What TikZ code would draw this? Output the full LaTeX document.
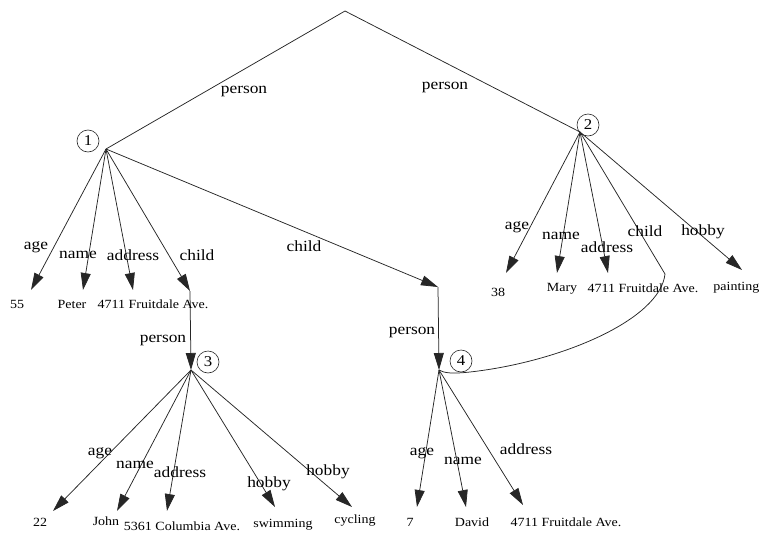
\documentclass[tikz,border=0pt]{standalone}
\usepackage{fontspec}
\setmainfont{Liberation Serif}[FakeStretch=1.12]
\usetikzlibrary{arrows.meta}
\tikzset{
  edge/.style={draw=black!85, line width=0.75pt},
  arr/.style={edge, -{Triangle[length=17pt,width=10pt]}},
  lbl/.style={inner sep=0pt, font=\fontsize{15.5}{17}\selectfont},
  leaf/.style={inner sep=0pt, font=\fontsize{12.5}{14}\selectfont},
  circ/.style={draw=black!85, circle, line width=0.6pt, minimum size=22pt, inner sep=0pt, font=\fontsize{15}{16}\selectfont}
}
\begin{document}
\begin{tikzpicture}[x=1pt,y=-1pt]
\useasboundingbox (0,0) rectangle (760,533);
% points
\coordinate (n0) at (345,11);
\coordinate (n1) at (106,149);
\coordinate (n2) at (580,132);
\coordinate (n3) at (191,370);
\coordinate (n4) at (439,370);
\coordinate (m1) at (190,291);
\coordinate (m4) at (438,287);
\coordinate (k2) at (665,274);
% circles
\node[circ] (c1) at (88,141) {1};
\node[circ] (c2) at (588,125) {2};
\node[circ] (c3) at (208,362) {3};
\node[circ] (c4) at (461,361) {4};
% tips
\coordinate (t1a) at (31,290);
\coordinate (t1n) at (83,290);
\coordinate (t1d) at (133,290);
\coordinate (t2a) at (506,273);
\coordinate (t2n) at (557,273);
\coordinate (t2d) at (608,273);
\coordinate (t2h) at (742,270);
\coordinate (t3a) at (53,511);
\coordinate (t3n) at (117,511);
\coordinate (t3d) at (167,511);
\coordinate (t3h) at (275,507);
\coordinate (t3c) at (352,507);
\coordinate (t4a) at (417,507);
\coordinate (t4n) at (466,507);
\coordinate (t4d) at (523,505);
% top edges
\draw[edge] (n1) -- (n0) -- (n2);
% node 1
\draw[arr] (n1) -- (t1a);
\draw[arr] (n1) -- (t1n);
\draw[arr] (n1) -- (t1d);
\draw[arr] (n1) -- (m1);
\draw[arr] (n1) -- (m4);
\draw[arr] (m1) -- (n3);
\draw[arr] (m4) -- (n4);
% node 2
\draw[arr] (n2) -- (t2a);
\draw[arr] (n2) -- (t2n);
\draw[arr] (n2) -- (t2d);
\draw[arr] (n2) -- (t2h);
\draw[edge] (n2) -- (k2) .. controls (660,320) and (560,362) .. (470,372) .. controls (452,374) and (444,373) .. (n4);
% node 3
\draw[arr] (n3) -- (t3a);
\draw[arr] (n3) -- (t3n);
\draw[arr] (n3) -- (t3d);
\draw[arr] (n3) -- (t3h);
\draw[arr] (n3) -- (t3c);
% node 4
\draw[arr] (n4) -- (t4a);
\draw[arr] (n4) -- (t4n);
\draw[arr] (n4) -- (t4d);
% edge labels
\node[lbl] (lp1) at (244,91) {person};
\node[lbl] (lp2) at (445,87) {person};
\node[lbl] (l1a) at (36,247) {age};
\node[lbl] (l1n) at (78,255) {name};
\node[lbl] (l1d) at (133,255) {address};
\node[lbl] (l1c) at (197,255) {child};
\node[lbl] (l1k) at (304,246) {child};
\node[lbl] (lp3) at (163,340) {person};
\node[lbl] (lp4) at (412,332) {person};
\node[lbl] (l3a) at (100,453) {age};
\node[lbl] (l3n) at (135,465) {name};
\node[lbl] (l3d) at (180,472) {address};
\node[lbl] (l3h) at (269,484) {hobby};
\node[lbl] (l3c) at (328,472) {hobby};
\node[lbl] (l2a) at (517,227) {age};
\node[lbl] (l2n) at (561,236) {name};
\node[lbl] (l2d) at (607,247) {address};
\node[lbl] (l2c) at (645,231) {child};
\node[lbl] (l2h) at (703,232) {hobby};
\node[lbl] (l4a) at (422,453) {age};
\node[lbl] (l4n) at (463,461) {name};
\node[lbl] (l4d) at (526,449) {address};
% leaves
\node[leaf] (v1a) at (17,304) {55};
\node[leaf] (v1n) at (72,304) {Peter};
\node[leaf] (v1d) at (153,304) {4711 Fruitdale Ave.};
\node[leaf] (v2a) at (498,292) {38};
\node[leaf] (v2n) at (562,289) {Mary};
\node[leaf] (v2d) at (643,288) {4711 Fruitdale Ave.};
\node[leaf, anchor=east] (v2h) at (759.5,288) {painting};
\node[leaf] (v3a) at (40,522) {22};
\node[leaf] (v3n) at (106,521) {John};
\node[leaf] (v3d) at (182,526) {5361 Columbia Ave.};
\node[leaf] (v3h) at (283,525) {swimming};
\node[leaf] (v3c) at (355,521) {cycling};
\node[leaf] (v4a) at (410,522) {7};
\node[leaf] (v4n) at (472,522) {David};
\node[leaf] (v4d) at (566,522) {4711 Fruitdale Ave.};
\end{tikzpicture}
\end{document}
